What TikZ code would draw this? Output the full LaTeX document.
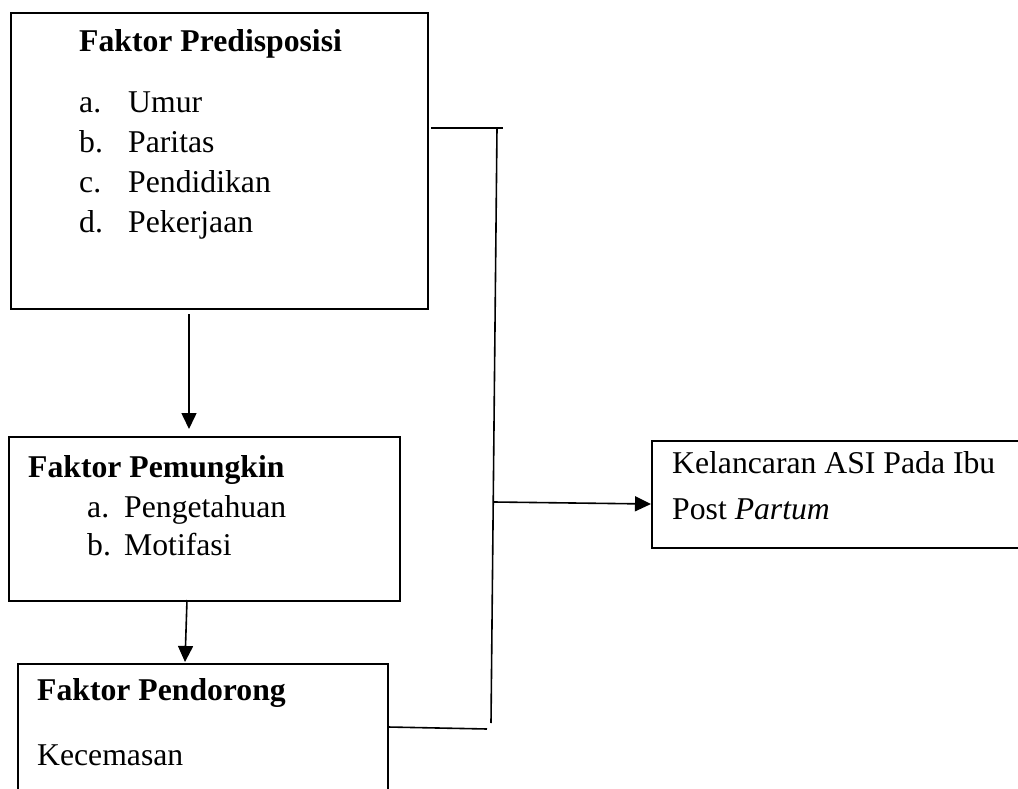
\documentclass[tikz,border=0pt]{standalone}
\usepackage{fontspec}
\setmainfont{Liberation Serif}
\usetikzlibrary{arrows.meta}
\tikzset{
  box/.style={draw, line width=1.6pt, rectangle, anchor=north west, inner sep=0pt},
  txt/.style={anchor=base west, inner sep=0pt, font=\fontsize{31.7}{38}\selectfont},
  conn/.style={line width=1.6pt},
  arr/.style={line width=1.6pt, -{Triangle[width=15pt,length=16pt]}}
}
\begin{document}
\begin{tikzpicture}[x=1pt,y=-1pt]
\useasboundingbox (0,0) rectangle (1018,789);
\clip (0,0) rectangle (1018,789);
% boxes
\node[box, minimum width=417pt, minimum height=296pt] (b1) at (10,12) {};
\node[box, minimum width=391pt, minimum height=164pt] (b2) at (8,436) {};
\node[box, minimum width=370pt, minimum height=160pt] (b3) at (17,663) {};
\node[box, minimum width=400pt, minimum height=107pt] (b4) at (651,440) {};
% texts box 1
\node[txt, font=\fontsize{31.7}{38}\selectfont\bfseries] (t1) at (79,52) {Faktor Predisposisi};
\node[txt] (l1a) at (79,113) {a.};
\node[txt] (i1a) at (128,113) {Umur};
\node[txt] (l1b) at (79,153) {b.};
\node[txt] (i1b) at (128,153) {Paritas};
\node[txt] (l1c) at (79,193) {c.};
\node[txt] (i1c) at (128,193) {Pendidikan};
\node[txt] (l1d) at (79,232) {d.};
\node[txt] (i1d) at (128,232) {Pekerjaan};
% texts box 2
\node[txt, font=\fontsize{31.7}{38}\selectfont\bfseries] (t2) at (28,477) {Faktor Pemungkin};
\node[txt] (l2a) at (87,517) {a.};
\node[txt] (i2a) at (124,517) {Pengetahuan};
\node[txt] (l2b) at (87,555) {b.};
\node[txt] (i2b) at (124,555) {Motifasi};
% texts box 3
\node[txt, font=\fontsize{31.7}{38}\selectfont\bfseries] (t3) at (37,700) {Faktor Pendorong};
\node[txt] (i3) at (37,765) {Kecemasan};
% texts box 4
\node[txt] (t4a) at (672,473) {Kelancaran ASI Pada Ibu};
\node[txt] (t4b) at (672,519) {Post \textit{Partum}};
% connector points
\coordinate (p1s) at (189,314);
\coordinate (p1e) at (189,429);
\coordinate (p2s) at (187,600);
\coordinate (p2e) at (185,662);
\coordinate (h1s) at (431,128);
\coordinate (h1e) at (503,128);
\coordinate (vt) at (497,128);
\coordinate (vb) at (491,723);
\coordinate (h3s) at (388,727);
\coordinate (h3e) at (487,729);
\coordinate (ms) at (494,502);
\coordinate (me) at (651,504);
% connectors
\draw[arr] (p1s) -- (p1e);
\draw[arr] (p2s) -- (p2e);
\draw[conn] (h1s) -- (h1e);
\draw[conn] (vt) -- (vb);
\draw[conn] (h3s) -- (h3e);
\draw[arr] (ms) -- (me);
\end{tikzpicture}
\end{document}
